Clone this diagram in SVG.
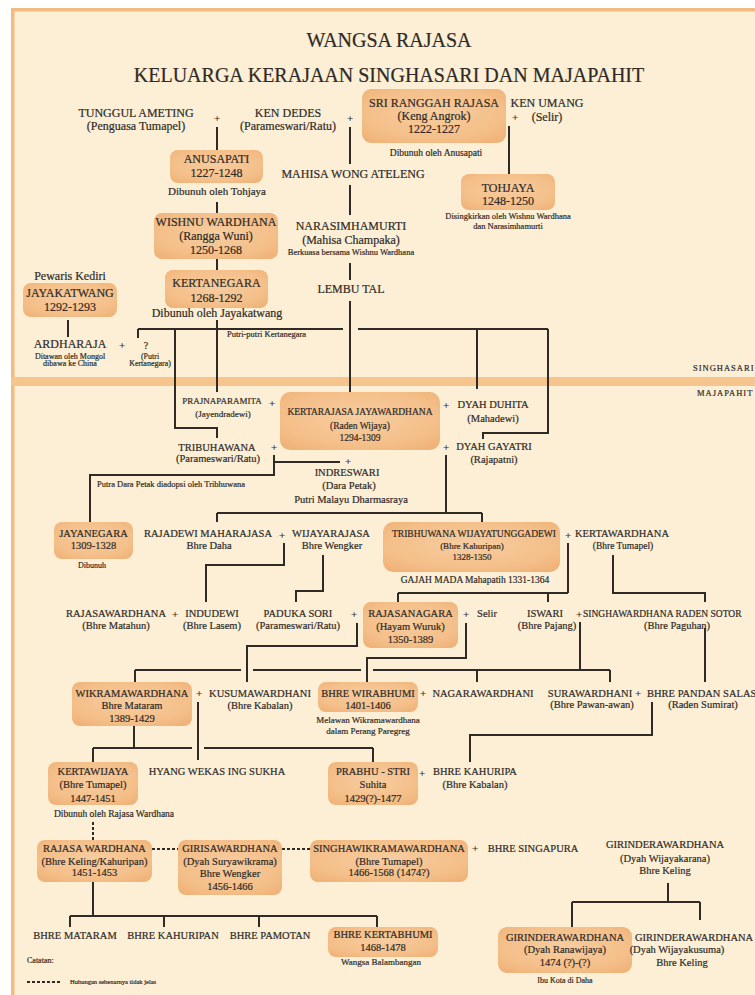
<svg xmlns="http://www.w3.org/2000/svg" width="755" height="995" viewBox="0 0 755 995">
<defs>
<radialGradient id="bx" cx="50%" cy="45%" r="70%">
<stop offset="0" stop-color="#F7CDA0"/>
<stop offset="0.7" stop-color="#F4BE88"/>
<stop offset="1" stop-color="#EFB176"/>
</radialGradient>
<style>
text{font-family:"Liberation Serif","Times New Roman",serif;fill:#2f2a26;stroke:#2f2a26;stroke-width:0.2px;text-anchor:middle}
.b{fill:url(#bx)}
.f20{font-size:20px}
.f12{font-size:12px}
.f11{font-size:11px}
.f10{font-size:10.5px}
.f100{font-size:10px}
.f95{font-size:9.5px}
.f9{font-size:9px}
.f85{font-size:8.5px}
.f8{font-size:8px}
.f65{font-size:6.5px}
.s{text-anchor:start}
.c path{stroke:#2f2a26;stroke-width:2;fill:none}
.c .d{stroke-dasharray:3 2}
.lbl{font-size:8.5px;letter-spacing:1px;text-anchor:start}
</style>
</defs>
<rect width="755" height="995" fill="#ffffff"/>
<rect x="11" y="8" width="744" height="987" fill="#FCEFD5"/>
<rect x="11" y="8" width="744" height="3.5" fill="#F4BB80"/>
<rect x="11" y="8" width="3.5" height="987" fill="#F4BB80"/>
<rect x="11" y="377" width="744" height="9" fill="#F6C58E"/>

<g id="title">
<text class="f20" x="389" y="47">WANGSA RAJASA</text>
<text class="f20" x="389" y="82">KELUARGA KERAJAAN SINGHASARI DAN MAJAPAHIT</text>
</g>
<g id="era-labels">
<text class="lbl" x="693" y="371">SINGHASARI</text>
<text class="lbl" x="697" y="396">MAJAPAHIT</text>
</g>

<g id="connectors" class="c">
<path d="M217,127 V150"/>
<path d="M217,202 V213"/>
<path d="M217,259 V270"/>
<path d="M350,127 V164 M350,185 V215 M350,263 V280 M350,301 V392"/>
<path d="M509,126 V174"/>
<path d="M68,320 V337"/>
<path d="M217,320 V392"/>
<path d="M138,329 H343 M358,329 H548"/>
<path d="M138,329 V338"/>
<path d="M175,329 V428 H217 V438"/>
<path d="M477,329 V389"/>
<path d="M548,329 V433 H483 V439"/>
<path d="M274,455 V475 H90 V522"/>
<path d="M274,462 H340"/>
<path d="M446,455 V513"/>
<path d="M217,513 H482 M217,513 V522 M482,513 V522"/>
<path d="M284,543 V565 H206 V602"/>
<path d="M323,555 V591 H296 V602"/>
<path d="M568,543 V593 M398,593 H568 M398,593 V602 M548,593 V602"/>
<path d="M613,555 V593 H705 V602"/>
<path d="M357,623 V646 H247 V682"/>
<path d="M466,623 V658 H367 V682"/>
<path d="M580,622 V670"/>
<path d="M135,670 H241 M253,670 H361 M373,670 H610"/>
<path d="M135,670 V682 M477,670 V682 M610,670 V682"/>
<path d="M705,628 V682"/>
<path d="M198,702 V760"/>
<path d="M134,726 V748 M93,748 H192 M204,748 H373 M93,748 V762 M373,748 V762"/>
<path d="M652,702 V735 H470 V762"/>
<path class="d" d="M93,822 V840"/>
<path class="d" d="M152,849 H178"/>
<path class="d" d="M282,849 H310"/>
<path d="M93,882 V916 M70,916 H377 M70,916 V927 M164,916 V927 M259,916 V927 M377,916 V927"/>
<path d="M668,883 V902 M572,902 H700 M572,902 V927 M700,902 V920"/>
<path class="d" d="M27,982 H60"/>
</g>

<g id="n-tunggul-ameting">
<text class="f12" x="136" y="117">TUNGGUL AMETING</text>
<text class="f12" x="136" y="130">(Penguasa Tumapel)</text>
</g>
<text class="f11" x="217" y="121.5">+</text>
<g id="n-ken-dedes">
<text class="f12" x="288" y="117">KEN DEDES</text>
<text class="f12" x="288" y="130">(Parameswari/Ratu)</text>
</g>
<text class="f11" x="350" y="121.5">+</text>
<g id="n-sri-ranggah-rajasa">
<rect class="b" x="362" y="89" width="144" height="54" rx="9"/>
<text class="f12" x="434" y="107">SRI RANGGAH RAJASA</text>
<text class="f12" x="434" y="120">(Keng Angrok)</text>
<text class="f12" x="434" y="133">1222-1227</text>
<text class="f95" x="436" y="156">Dibunuh oleh Anusapati</text>
</g>
<text class="f11" x="515" y="120.5">+</text>
<g id="n-ken-umang">
<text class="f12" x="547" y="107">KEN UMANG</text>
<text class="f12" x="547" y="121">(Selir)</text>
</g>
<g id="n-anusapati">
<rect class="b" x="170" y="150" width="93" height="33" rx="8"/>
<text class="f12" x="216.5" y="163">ANUSAPATI</text>
<text class="f12" x="216.5" y="177">1227-1248</text>
<text class="f11" x="217" y="195">Dibunuh oleh Tohjaya</text>
</g>
<g id="n-mahisa-wong-ateleng">
<text class="f12" x="353" y="178">MAHISA WONG ATELENG</text>
</g>
<g id="n-tohjaya">
<rect class="b" x="461" y="174" width="94" height="36" rx="8"/>
<text class="f12" x="508" y="192">TOHJAYA</text>
<text class="f12" x="508" y="205">1248-1250</text>
<text class="f85" x="508" y="219">Disingkirkan oleh Wishnu Wardhana</text>
<text class="f85" x="508" y="229">dan Narasimhamurti</text>
</g>
<g id="n-wishnu-wardhana">
<rect class="b" x="154" y="213" width="124" height="46" rx="8"/>
<text class="f12" x="216" y="226">WISHNU WARDHANA</text>
<text class="f12" x="216" y="240">(Rangga Wuni)</text>
<text class="f12" x="216" y="254">1250-1268</text>
</g>
<g id="n-narasimhamurti">
<text class="f12" x="351" y="230">NARASIMHAMURTI</text>
<text class="f12" x="351" y="244">(Mahisa Champaka)</text>
<text class="f85" x="351" y="255">Berkuasa bersama Wishnu Wardhana</text>
</g>
<g id="n-kertanegara">
<rect class="b" x="165" y="270" width="103" height="38" rx="8"/>
<text class="f12" x="216.5" y="287">KERTANEGARA</text>
<text class="f12" x="216.5" y="302">1268-1292</text>
<text class="f12" x="217" y="317">Dibunuh oleh Jayakatwang</text>
</g>
<g id="n-lembu-tal">
<text class="f12" x="351" y="293">LEMBU TAL</text>
</g>
<g id="n-jayakatwang">
<text class="f12" x="70" y="280">Pewaris Kediri</text>
<rect class="b" x="23" y="283" width="94" height="34" rx="8"/>
<text class="f12" x="70" y="297">JAYAKATWANG</text>
<text class="f12" x="70" y="311">1292-1293</text>
</g>
<g id="n-ardharaja">
<text class="f12" x="70" y="348">ARDHARAJA</text>
<text class="f8" x="70" y="358.5">Ditawan oleh Mongol</text>
<text class="f8" x="70" y="366">dibawa ke China</text>
</g>
<text class="f11" x="122" y="348.5">+</text>
<g id="n-putri-kertanegara">
<text class="f100" x="146" y="348.5">?</text>
<text class="f8" x="150" y="358.5">(Putri</text>
<text class="f8" x="150" y="366">Kertanegara)</text>
</g>
<text class="f85 s" x="227" y="337">Putri-putri Kertanegara</text>

<g id="n-prajnaparamita">
<text class="f9" x="222" y="404">PRAJNAPARAMITA</text>
<text class="f9" x="223" y="417">(Jayendradewi)</text>
</g>
<text class="f11" x="272" y="406.5">+</text>
<g id="n-kertarajasa">
<rect class="b" x="280" y="392" width="160" height="58" rx="10"/>
<text class="f95" x="360" y="415">KERTARAJASA JAYAWARDHANA</text>
<text class="f95" x="360" y="429">(Raden Wijaya)</text>
<text class="f95" x="360" y="441">1294-1309</text>
</g>
<text class="f11" x="446" y="408.5">+</text>
<g id="n-dyah-duhita">
<text class="f10" x="493" y="408">DYAH DUHITA</text>
<text class="f10" x="493" y="422">(Mahadewi)</text>
</g>
<text class="f11" x="446" y="450.5">+</text>
<g id="n-dyah-gayatri">
<text class="f10" x="494" y="450">DYAH GAYATRI</text>
<text class="f10" x="494" y="463">(Rajapatni)</text>
</g>
<g id="n-tribuhawana">
<text class="f10" x="217" y="451">TRIBUHAWANA</text>
<text class="f10" x="218" y="462">(Parameswari/Ratu)</text>
</g>
<text class="f11" x="274" y="450.5">+</text>
<text class="f11" x="348" y="464.5">+</text>
<g id="n-indreswari">
<text class="f10" x="347" y="476">INDRESWARI</text>
<text class="f10" x="349" y="489">(Dara Petak)</text>
<text class="f10" x="351" y="503">Putri Malayu Dharmasraya</text>
</g>
<text class="f85 s" x="97" y="487">Putra Dara Petak diadopsi oleh Tribhuwana</text>

<g id="n-jayanegara">
<rect class="b" x="54" y="522" width="79" height="37" rx="8"/>
<text class="f10" x="93.5" y="537">JAYANEGARA</text>
<text class="f10" x="93.5" y="549">1309-1328</text>
<text class="f8" x="92" y="568">Dibunuh</text>
</g>
<g id="n-rajadewi">
<text class="f10" x="208" y="537">RAJADEWI MAHARAJASA</text>
<text class="f10" x="209" y="549">Bhre Daha</text>
</g>
<text class="f11" x="282" y="538.5">+</text>
<g id="n-wijayarajasa">
<text class="f10" x="331" y="537">WIJAYARAJASA</text>
<text class="f10" x="332" y="549">Bhre Wengker</text>
</g>
<g id="n-tribhuwana-wijayatunggadewi">
<rect class="b" x="383" y="522" width="177" height="50" rx="10"/>
<text class="f95" x="474" y="537">TRIBHUWANA WIJAYATUNGGADEWI</text>
<text class="f9" x="472" y="549">(Bhre Kahuripan)</text>
<text class="f9" x="472" y="560">1328-1350</text>
<text class="f95" x="475" y="583">GAJAH MADA Mahapatih 1331-1364</text>
</g>
<text class="f11" x="568" y="538.5">+</text>
<g id="n-kertawardhana">
<text class="f10" x="622" y="537">KERTAWARDHANA</text>
<text class="f95" x="623" y="549">(Bhre Tumapel)</text>
</g>

<g id="n-rajasawardhana">
<text class="f10" x="116" y="617">RAJASAWARDHANA</text>
<text class="f10" x="116" y="629">(Bhre Matahun)</text>
</g>
<text class="f11" x="175" y="617.5">+</text>
<g id="n-indudewi">
<text class="f10" x="212" y="617">INDUDEWI</text>
<text class="f10" x="212" y="629">(Bhre Lasem)</text>
</g>
<g id="n-paduka-sori">
<text class="f10" x="298" y="617">PADUKA SORI</text>
<text class="f10" x="298" y="629">(Parameswari/Ratu)</text>
</g>
<text class="f11" x="354" y="617.5">+</text>
<g id="n-rajasanagara">
<rect class="b" x="363" y="602" width="95" height="46" rx="8"/>
<text class="f10" x="410.5" y="617">RAJASANAGARA</text>
<text class="f10" x="410.5" y="630">(Hayam Wuruk)</text>
<text class="f10" x="410.5" y="643">1350-1389</text>
</g>
<text class="f11" x="466" y="617.5">+</text>
<g id="n-selir">
<text class="f10" x="487" y="617">Selir</text>
</g>
<g id="n-iswari">
<text class="f10" x="545" y="617">ISWARI</text>
<text class="f10" x="547" y="629">(Bhre Pajang)</text>
</g>
<text class="f11" x="579" y="617.5">+</text>
<g id="n-singhawardhana">
<text class="f95 s" x="583" y="617">SINGHAWARDHANA RADEN SOTOR</text>
<text class="f10" x="677" y="629">(Bhre Paguhan)</text>
</g>

<g id="n-wikramawardhana">
<rect class="b" x="72" y="682" width="120" height="44" rx="8"/>
<text class="f10" x="132" y="697">WIKRAMAWARDHANA</text>
<text class="f10" x="132" y="709">Bhre Mataram</text>
<text class="f10" x="132" y="722">1389-1429</text>
</g>
<text class="f11" x="199" y="696.5">+</text>
<g id="n-kusumawardhani">
<text class="f10" x="260" y="697">KUSUMAWARDHANI</text>
<text class="f10" x="260" y="709">(Bhre Kabalan)</text>
</g>
<g id="n-bhre-wirabhumi">
<rect class="b" x="318" y="682" width="100" height="30" rx="8"/>
<text class="f10" x="368" y="697">BHRE WIRABHUMI</text>
<text class="f10" x="368" y="709">1401-1406</text>
<text class="f9" x="368" y="723">Melawan Wikramawardhana</text>
<text class="f9" x="368" y="734">dalam Perang Paregreg</text>
</g>
<text class="f11" x="423" y="696.5">+</text>
<g id="n-nagarawardhani">
<text class="f10" x="483" y="697">NAGARAWARDHANI</text>
</g>
<g id="n-surawardhani">
<text class="f10" x="590" y="697">SURAWARDHANI</text>
<text class="f10" x="592" y="708">(Bhre Pawan-awan)</text>
</g>
<text class="f11" x="638" y="696.5">+</text>
<g id="n-bhre-pandan-salas">
<text class="f10 s" x="647" y="697">BHRE PANDAN SALAS</text>
<text class="f10" x="703" y="708">(Raden Sumirat)</text>
</g>

<g id="n-kertawijaya">
<rect class="b" x="48" y="762" width="90" height="43" rx="8"/>
<text class="f10" x="93" y="775">KERTAWIJAYA</text>
<text class="f10" x="93" y="788">(Bhre Tumapel)</text>
<text class="f10" x="93" y="802">1447-1451</text>
<text class="f95" x="114" y="817">Dibunuh oleh Rajasa Wardhana</text>
</g>
<g id="n-hyang-wekas-ing-sukha">
<text class="f10" x="217" y="775">HYANG WEKAS ING SUKHA</text>
</g>
<g id="n-prabhu-stri">
<rect class="b" x="328" y="762" width="90" height="43" rx="8"/>
<text class="f10" x="373" y="775">PRABHU - STRI</text>
<text class="f10" x="373" y="788">Suhita</text>
<text class="f10" x="373" y="802">1429(?)-1477</text>
</g>
<text class="f11" x="422" y="776.5">+</text>
<g id="n-bhre-kahuripa">
<text class="f10" x="475" y="775">BHRE KAHURIPA</text>
<text class="f10" x="475" y="788">(Bhre Kabalan)</text>
</g>

<g id="n-rajasa-wardhana">
<rect class="b" x="37" y="840" width="115" height="42" rx="8"/>
<text class="f10" x="94.5" y="852">RAJASA WARDHANA</text>
<text class="f10" x="94.5" y="865">(Bhre Keling/Kahuripan)</text>
<text class="f10" x="94.5" y="876">1451-1453</text>
</g>
<g id="n-girisawardhana">
<rect class="b" x="178" y="840" width="104" height="55" rx="8"/>
<text class="f10" x="230" y="852">GIRISAWARDHANA</text>
<text class="f10" x="230" y="865">(Dyah Suryawikrama)</text>
<text class="f10" x="230" y="877">Bhre Wengker</text>
<text class="f10" x="230" y="890">1456-1466</text>
</g>
<g id="n-singhawikramawardhana">
<rect class="b" x="310" y="840" width="158" height="42" rx="8"/>
<text class="f10" x="389" y="852">SINGHAWIKRAMAWARDHANA</text>
<text class="f10" x="389" y="865">(Bhre Tumapel)</text>
<text class="f10" x="389" y="876">1466-1568 (1474?)</text>
</g>
<text class="f11" x="475" y="851.5">+</text>
<g id="n-bhre-singapura">
<text class="f10" x="533" y="852">BHRE SINGAPURA</text>
</g>
<g id="n-girinderawardhana-wijayakarana">
<text class="f10" x="665" y="848">GIRINDERAWARDHANA</text>
<text class="f10" x="665" y="862">(Dyah Wijayakarana)</text>
<text class="f10" x="665" y="874">Bhre Keling</text>
</g>

<g id="n-bhre-mataram"><text class="f10" x="75" y="939">BHRE MATARAM</text></g>
<g id="n-bhre-kahuripan"><text class="f10" x="173" y="939">BHRE KAHURIPAN</text></g>
<g id="n-bhre-pamotan"><text class="f10" x="270" y="939">BHRE PAMOTAN</text></g>
<g id="n-bhre-kertabhumi">
<rect class="b" x="328" y="927" width="110" height="30" rx="8"/>
<text class="f10" x="383" y="938">BHRE KERTABHUMI</text>
<text class="f10" x="383" y="951">1468-1478</text>
<text class="f9" x="381" y="965">Wangsa Balambangan</text>
</g>
<g id="n-girinderawardhana-ranawijaya">
<rect class="b" x="498" y="927" width="134" height="46" rx="9"/>
<text class="f10" x="565" y="941">GIRINDERAWARDHANA</text>
<text class="f10" x="565" y="953">(Dyah Ranawijaya)</text>
<text class="f10" x="565" y="966">1474 (?)-(?)</text>
<text class="f8" x="565" y="983">Ibu Kota di Daha</text>
</g>
<g id="n-girinderawardhana-wijayakusuma">
<text class="f10 s" x="635" y="941">GIRINDERAWARDHANA</text>
<text class="f10" x="677" y="953">(Dyah Wijayakusuma)</text>
<text class="f10" x="682" y="966">Bhre Keling</text>
</g>

<g id="legend">
<text class="f8 s" x="27" y="963">Catatan:</text>
<text class="f65 s" x="70" y="984">Hubungan sebenarnya tidak jelas</text>
</g>
</svg>
